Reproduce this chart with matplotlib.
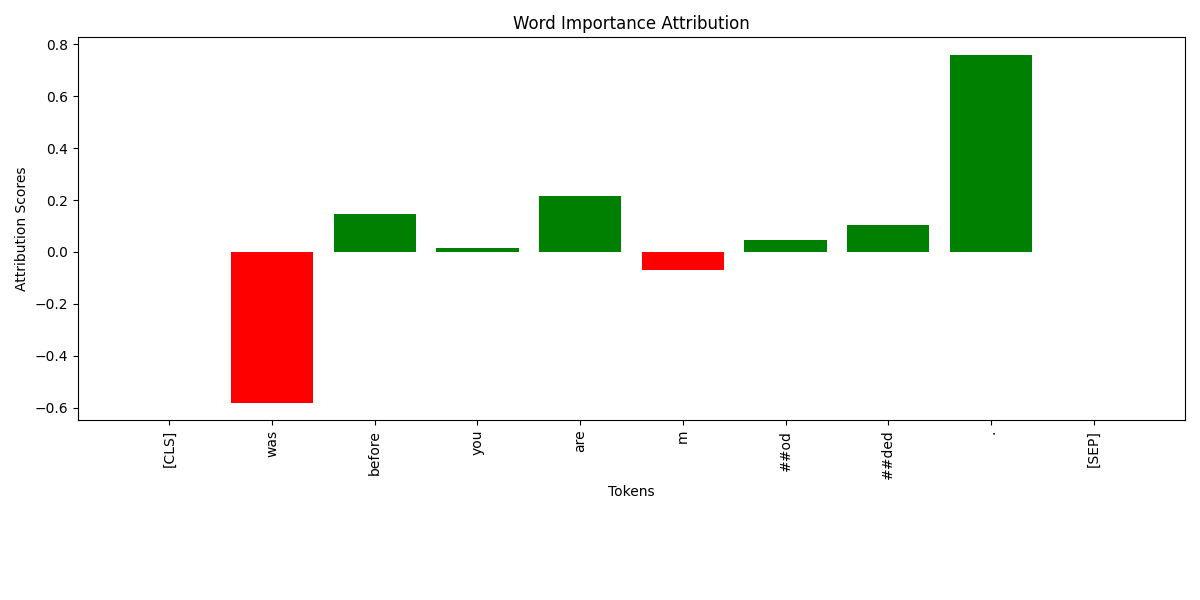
import matplotlib
matplotlib.use("Agg")
import matplotlib.pyplot as plt

tokens = ["[CLS]", "was", "before", "you", "are", "m", "##od", "##ded", ".", "[SEP]"]
scores = [0.0, -0.58, 0.145, 0.015, 0.215, -0.07, 0.045, 0.105, 0.76, 0.0]

colors = ["green" if s > 0 else "red" for s in scores]

fig, ax = plt.subplots(figsize=(12, 6), dpi=100)
ax.bar(range(len(tokens)), scores, color=colors)
ax.set_xticks(range(len(tokens)))
ax.set_xticklabels(tokens, rotation=90)
ax.set_xlabel("Tokens")
ax.set_ylabel("Attribution Scores")
ax.set_title("Word Importance Attribution")
fig.subplots_adjust(left=0.065, right=0.9875, top=0.938, bottom=0.30)
fig.savefig("out.png")
